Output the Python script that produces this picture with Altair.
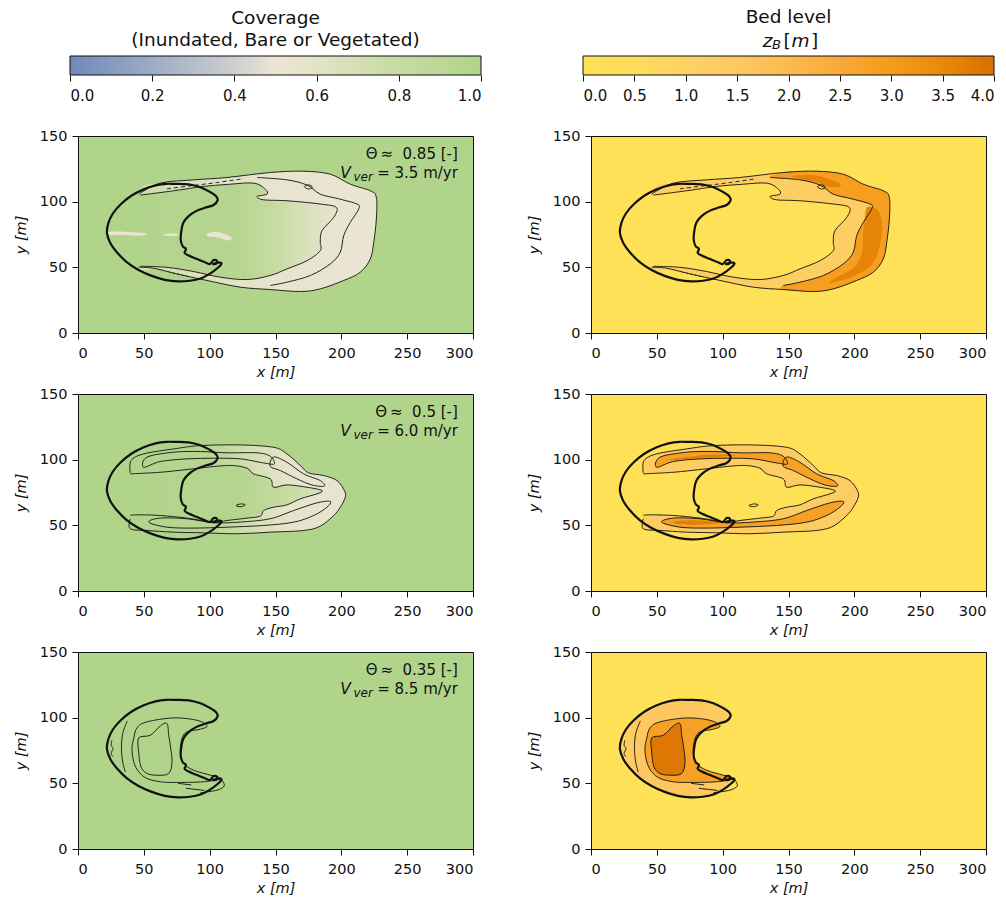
import altair as alt
import pandas as pd

FONT = "DejaVu Sans"
INK = "#111111"

# ---------------------------------------------------------------- axes
X_DOMAIN = [0, 300]
Y_DOMAIN = [0, 150]
X_TICKS = [0, 50, 100, 150, 200, 250, 300]
Y_TICKS = [0, 50, 100, 150]

# ---------------------------------------------------------------- colour maps
COVER_DOMAIN = [0.0, 1.0]
COVER_TICKS = [0.0, 0.2, 0.4, 0.6, 0.8, 1.0]
COVER_STOPS = [0.0, 0.2, 0.4, 0.5, 0.6, 0.8, 1.0]
COVER_COLORS = ["#7089ba", "#9dacc5", "#cdcfcf", "#ece5d5", "#e3e3c7", "#c7dba2", "#b1d48b"]

BED_DOMAIN = [0.0, 4.0]
BED_TICKS = [0.0, 0.5, 1.0, 1.5, 2.0, 2.5, 3.0, 3.5, 4.0]
BED_STOPS = [0.0, 0.5, 1.0, 1.5, 2.0, 2.5, 3.0, 3.5, 4.0]
BED_COLORS = ["#fee156", "#fedb5c", "#fdd364", "#fdc862", "#fbbb4e",
              "#f9a83a", "#f49c18", "#e8890a", "#d96f00"]

# ---------------------------------------------------------------- run parameters
THETA = ["0.85", "0.5", "0.35"]
V_VER = ["3.5", "6.0", "8.5"]

# ---------------------------------------------------------------- initial dune (x, y in m)
DUNE = [(74, 113.5), (84, 113.2), (93, 111), (100, 107.5), (105, 104), (106, 101),
        (103, 97.5), (97, 95.5), (90, 93), (84, 89), (80, 84), (78.5, 78), (78, 71),
        (79.5, 66), (82, 64), (81, 61), (84, 59), (90, 56.5), (96, 54), (100, 52.5),
        (103, 55.5), (105.5, 55), (105, 52.8), (102.5, 52.5), (106, 53.5), (109, 53),
        (106, 49.5), (100, 45), (93, 41.5), (85, 39.8), (76, 39.3), (66, 40.5),
        (56, 43.5), (46, 48), (37, 54), (29.5, 61.5), (24.5, 68.5), (22, 76),
        (23, 83.5), (26.5, 91), (32.5, 98), (40.5, 104.5), (49.5, 109.3),
        (59, 112.4), (67, 113.6)]

# ---------------------------------------------------------------- run 1 contours
R1_OUTER = [(46, 105.7), (62.5, 114.1), (87.8, 116.6), (113, 118.4), (146, 122.2),
            (171, 123.2), (191.6, 120.9), (206.8, 113.3), (222, 108.3), (226.6, 103.2),
            (226.6, 86.8), (224.6, 69), (222, 56.4), (214.4, 46.3), (201.8, 40),
            (184, 33.6), (168.9, 31.6), (146, 33.1), (123.3, 34.9), (98, 40),
            (75.2, 45), (57.5, 49.3), (46, 50.1)]
R1_INNER = [(47.3, 105), (72.7, 108.3), (95.4, 111.6), (113.2, 113.1), (133.4, 114.1),
            (142.3, 109.5), (143.5, 105.7), (136, 104), (141, 101.4), (158.7, 100.7),
            (184, 98.2), (196.2, 95.6), (194.2, 88), (185.3, 77.9), (184, 69.1),
            (184, 62.7), (174, 55.1), (158.7, 48.8), (146, 43.8), (128.4, 40.7),
            (108, 42.5), (87.8, 46.8), (67.6, 50), (47.3, 50.8)]
R1_HOLE_CLOSE = [(40, 56), (36, 78), (40, 100)]
R1_CREST = [(136, 118.4), (158.7, 116.6), (174, 112.6), (184, 105.7), (196.7, 102.5),
            (211.9, 98.2), (213.2, 94.4), (206.8, 84.2), (201.8, 74.1), (199.2, 61.5),
            (191.6, 52.6), (176.5, 43.8), (158.7, 38.7), (146, 36.2)]
R1_CORE_RIGHT = [(210, 96), (218, 93), (221, 82), (219, 65), (213, 52), (200, 43.5),
                 (182, 38), (186, 42), (200, 50), (206, 62), (206.5, 75), (208, 88)]
R1_CORE_TOP = [(153, 119.5), (170, 120), (184, 116), (190, 112.5), (183, 111),
               (172, 114.5), (160, 117)]
R1_DASH = [(67.6, 109.8), (85, 112), (105, 114.5), (125.8, 117.5)]
R1_DOTS = [(69, 46.5), (85.3, 42.5)]
R1_LOOP = [(172, 111.5), (175.5, 112.8), (178, 111), (175, 109.6)]
R1_PATCH_A = [(22, 76.8), (30, 77.3), (40, 76.8), (50, 76.2), (52, 74.6), (44, 74.2),
              (34, 74.8), (23, 74.6)]
R1_PATCH_B = [(98, 75.5), (104, 77), (110, 76), (117, 72.5), (114, 70.5), (106, 72.8),
              (99, 73.4)]
R1_PATCH_C = [(66, 75.5), (75, 75.6), (76, 74.2), (66, 74)]

# ---------------------------------------------------------------- run 2 contours
R2_OUTER = [(39.7, 89.9), (40.3, 99.3), (49.9, 104.4), (72.7, 108.2), (92.9, 110.7),
            (123.3, 111.2), (148.6, 109.4), (158.7, 104.4), (168.9, 95.5), (175.2, 89.9),
            (186.6, 87.9), (196.7, 84.1), (202.3, 76.5), (203, 71.4), (199.2, 63.8),
            (194.2, 57.5), (184, 49.4), (171.4, 46.1), (146, 44.8), (120.8, 43.6),
            (95.4, 44.3), (72.7, 44.8), (52.4, 46.1), (39.7, 47.4), (39.7, 55)]
R2_INNER = [(39.7, 89.2), (62.5, 90.4), (82.8, 92.5), (105.6, 95), (118.2, 95.5),
            (128.4, 93.5), (133.4, 89.2), (146, 85.4), (148.6, 79), (158.7, 80.8),
            (173.9, 79), (185.3, 76.5), (181.5, 74), (168.9, 70.2), (158.7, 65.6),
            (148.6, 63.8), (141, 61.3), (138.5, 57), (128.4, 55.5), (113.2, 53.7),
            (103, 52.4), (82.8, 55.5), (62.5, 57.5), (44.8, 58), (39.7, 57.5)]
R2_HOLE_CLOSE = [(34, 62), (32, 74), (34, 85)]
R2_TOP_CREST = [(49.9, 94.2), (52.4, 101.9), (72.7, 105.7), (92.9, 106.2), (113.2, 105.2),
                (136, 105.2), (146, 102.6), (149.1, 96.8), (141, 97.5), (123.3, 100.6),
                (103, 101.1), (82.8, 100.6), (62.5, 98.6)]
R2_TOP_RIGHT = [(148.6, 102), (158.7, 98), (171.4, 89.2), (184, 84.1), (187, 79.8),
                (177.5, 80.8), (166.3, 85.4), (153.7, 91.7), (146, 95)]
R2_BOT_CREST = [(53.7, 52.4), (62.5, 55.5), (82.8, 55), (103, 52), (123.3, 52.5),
                (146, 55), (163.8, 61.3), (181.5, 67.1), (191.6, 68.2), (189.1, 63.8),
                (179, 57.5), (163.8, 52.4), (141, 49.9), (113.2, 48.6), (87.8, 47.9),
                (67.6, 48.6)]
R2_TOP_CORE = [(57.5, 99.8), (77.7, 102.6), (95.4, 103.9), (110, 103.5), (95, 102),
               (82, 101.2), (67.6, 100)]
R2_BOT_CORE = [(62.5, 52.6), (77.7, 53.8), (98, 52), (82.8, 50.6), (67.6, 50.9)]
R2_LOOP = [(120, 65), (123.5, 66.3), (127, 65.6), (124, 64.2)]

# ---------------------------------------------------------------- run 3 contours
R3_LEFT = [(37.5, 97.5), (34, 88), (33, 76.5), (34, 66), (36, 58.5)]
R3_MID = [(42.3, 84.1), (44.8, 92.2), (52.4, 96.8), (72.7, 99.8), (90.4, 98), (98, 93.7),
          (92.9, 91.2), (82.8, 89.2), (79, 84.1), (77.7, 74), (80.3, 65.1), (87.8, 60),
          (100.5, 56.2), (108.1, 53.7), (95.4, 51.2), (72.7, 50.7), (62.5, 51.2),
          (52.4, 53.7), (46.1, 58.8), (42.3, 66.4), (41, 76.5)]
R3_CORE = [(46.1, 84.6), (54.9, 86.6), (62.5, 93.7), (67.6, 95.5), (68.9, 86.6),
           (70.1, 79), (71.4, 66.4), (68.9, 57.5), (60, 56.2), (52.4, 57.5),
           (47.8, 62.6), (46.1, 74)]
R3_HORN = [(93, 42.8), (105.6, 44.8), (111.1, 48.1), (109.4, 52.4)]
R3_STREAK_A = [(76, 50), (86, 48.8)]
R3_STREAK_B = [(82, 46.2), (96, 44.6)]
R3_ZIG = [(25.8, 82.8), (25.1, 79), (26.6, 76.5), (25.1, 72.7), (26.6, 70.2)]

# ---------------------------------------------------------------- field levels of the shaded regions
R1_BED = {"ring": 1.2, "crest": 2.9, "core": 3.6}
R2_BED = {"ring": 1.3, "crest": 2.8, "core": 3.7}
R3_BED = {"mid": 2.8, "core": 3.85}
R3_DUNE_GRAD = ([22, 35, 70, 109], [0.8, 1.5, 1.6, 1.3])
R1_COVER_RING = ([46, 100, 150, 226.6], [0.78, 0.62, 0.55, 0.52])
R1_COVER_HOLE = ([36, 120, 150, 180, 196.2], [1.0, 0.96, 0.8, 0.62, 0.56])
R1_COVER_PATCH = 0.52
R2_COVER_RING = ([39.7, 100, 130, 160, 203], [1.0, 0.95, 0.72, 0.56, 0.54])
R2_COVER_HOLE = ([32, 120, 160, 185.3], [1.0, 0.97, 0.8, 0.65])

# ---------------------------------------------------------------- layout
PANEL_W, PANEL_H = 395, 197
BAR_H = 19
BAR_RANGE = [-8, PANEL_W + 8]
NOTE_X = 288.5
NOTE_Y = [136.5, 122]
NBSP = "\u00a0"


def cmap(v, stops, colors):
    if v <= stops[0]:
        return colors[0]
    for k in range(len(stops) - 1):
        if stops[k] <= v <= stops[k + 1]:
            t = (v - stops[k]) / (stops[k + 1] - stops[k])
            a = [int(colors[k][j:j + 2], 16) for j in (1, 3, 5)]
            b = [int(colors[k + 1][j:j + 2], 16) for j in (1, 3, 5)]
            return "#%02x%02x%02x" % tuple(round(a[i] + (b[i] - a[i]) * t) for i in range(3))
    return colors[-1]


def bed(v):
    return cmap(v, BED_STOPS, BED_COLORS)


def cover(v):
    return cmap(v, COVER_STOPS, COVER_COLORS)


def x_gradient(pts, xs, values, to_color):
    lo = min(p[0] for p in pts)
    hi = max(p[0] for p in pts)
    stops = []
    for x, v in zip(xs, values):
        off = min(1.0, max(0.0, (x - lo) / (hi - lo)))
        stops.append(alt.GradientStop(offset=off, color=to_color(v)))
    return alt.LinearGradient(gradient="linear", x1=0, x2=1, y1=0, y2=0, stops=stops)


X_ENC = alt.X("x:Q", scale=alt.Scale(domain=X_DOMAIN, nice=False, zero=False),
              axis=alt.Axis(values=X_TICKS, title="x [m]", labelPadding=7, titlePadding=6))
Y_ENC = alt.Y("y:Q", scale=alt.Scale(domain=Y_DOMAIN, nice=False, zero=False),
              axis=alt.Axis(values=Y_TICKS, title="y [m]", labelPadding=5, titlePadding=11))


def frame(pts):
    return pd.DataFrame({"x": [p[0] for p in pts], "y": [p[1] for p in pts],
                         "i": list(range(len(pts)))})


def placed(chart):
    return chart.encode(x=X_ENC, y=Y_ENC, order=alt.Order("i:Q"))


def region(pts, paint):
    return placed(alt.Chart(frame(pts)).mark_line(
        fill=paint, strokeOpacity=0, interpolate="cardinal-closed", clip=True))


def contour(pts, closed=False, dash=None, width=0.9):
    props = dict(color=INK, strokeWidth=width, clip=True,
                 interpolate="cardinal-closed" if closed else "cardinal")
    if dash:
        props["strokeDash"] = dash
    return placed(alt.Chart(frame(pts)).mark_line(**props))


def notes(theta, vver):
    d1 = pd.DataFrame({"x": [NOTE_X], "y": [NOTE_Y[0]],
                       "t": [f"\u0398\u2009\u2248{NBSP}{NBSP}{theta} [-]"]})
    d2 = pd.DataFrame({"x": [NOTE_X], "y": [NOTE_Y[1]], "t": [f"= {vver} m/yr"]})
    base = dict(align="right", baseline="middle", color=INK, font=FONT)
    return [
        alt.Chart(d1).mark_text(fontSize=15, **base).encode(x=X_ENC, y=Y_ENC, text="t:N"),
        alt.Chart(d2).mark_text(fontSize=15, **base).encode(x=X_ENC, y=Y_ENC, text="t:N"),
        alt.Chart(d2).mark_text(text="ver", fontSize=12, fontStyle="italic", dx=-85, dy=4,
                                **base).encode(x=X_ENC, y=Y_ENC),
        alt.Chart(d2).mark_text(text="V", fontSize=15.5, fontStyle="italic", dx=-107,
                                **base).encode(x=X_ENC, y=Y_ENC),
    ]


def panel(background, fills, lines, theta=None, vver=None):
    layers = [region(p, c) for p, c in fills]
    layers += [contour(p, closed, dash) for p, closed, dash in lines]
    layers.append(contour(DUNE, closed=True, width=2.2))
    if theta is not None:
        layers += notes(theta, vver)
    return alt.layer(*layers).properties(
        width=PANEL_W, height=PANEL_H,
        view=alt.ViewBackground(fill=background, stroke=INK, strokeWidth=1))


def colorbar(domain, ticks, stops, colors, title, extra=None):
    span = domain[1] - domain[0]
    paint = alt.LinearGradient(
        gradient="linear", x1=0, x2=1, y1=0, y2=0,
        stops=[alt.GradientStop(offset=(s - domain[0]) / span, color=c)
               for s, c in zip(stops, colors)])
    xenc = alt.X("lo:Q", scale=alt.Scale(domain=domain, range=BAR_RANGE, nice=False, zero=False),
                 axis=alt.Axis(values=ticks, format=".1f", title=None, labelFontSize=15,
                               labelPadding=7))
    bar = alt.Chart(pd.DataFrame({"lo": [domain[0]], "hi": [domain[1]]})).mark_rect(
        fill=paint, stroke=INK, strokeWidth=1).encode(x=xenc, x2="hi:Q")
    layers = [bar]
    if extra:
        mid = pd.DataFrame({"lo": [(domain[0] + domain[1]) / 2]})
        for text, style, size, dx, dy in extra:
            layers.append(alt.Chart(mid).mark_text(
                text=text, fontStyle=style, fontSize=size, dx=dx, dy=dy, font=FONT,
                color=INK, align="center", baseline="middle", clip=False
            ).encode(x=xenc, y=alt.value(-15)))
    return alt.layer(*layers).properties(
        width=PANEL_W, height=BAR_H,
        title=alt.TitleParams(title, frame="group"),
        view=alt.ViewBackground(stroke="transparent"))


# ---------------------------------------------------------------- colour bars
cover_bar = colorbar(COVER_DOMAIN, COVER_TICKS, COVER_STOPS, COVER_COLORS,
                     ["Coverage", "(Inundated, Bare or Vegetated)"])
# the second title line (z_B [m]) is set piecewise so that B can be a subscript;
# those pieces already lift the bar's upper bound, so the title keeps one line
bed_label = [("z", "italic", 18.5, -21, 0), ("B", "italic", 13, -12, 4),
             ("[", "normal", 18.5, -1.5, 0), ("m", "italic", 18.5, 12, 0),
             ("]", "normal", 18.5, 26, 0)]
bed_bar = colorbar(BED_DOMAIN, BED_TICKS, BED_STOPS, BED_COLORS, "Bed level", bed_label)

GREEN = COVER_COLORS[-1]
YELLOW = BED_COLORS[0]

# ---------------------------------------------------------------- run 1
r1_lines = [(R1_OUTER, False, None), (R1_INNER, False, None), (R1_CREST, False, None),
            (R1_DASH, False, [4, 3]), (R1_DOTS, False, [1.5, 3]), (R1_LOOP, True, None)]
r1_hole = R1_INNER + R1_HOLE_CLOSE
r1_crest_poly = R1_CREST + R1_OUTER[17:3:-1]
r1_cover = panel(GREEN, [
    (R1_OUTER, x_gradient(R1_OUTER, *R1_COVER_RING, cover)),
    (r1_hole, x_gradient(r1_hole, *R1_COVER_HOLE, cover)),
    (R1_PATCH_A, cover(R1_COVER_PATCH)), (R1_PATCH_B, cover(R1_COVER_PATCH)),
    (R1_PATCH_C, cover(R1_COVER_PATCH)),
], r1_lines, THETA[0], V_VER[0])
r1_bed = panel(YELLOW, [
    (R1_OUTER, bed(R1_BED["ring"])),
    (r1_crest_poly, bed(R1_BED["crest"])),
    (R1_CORE_RIGHT, bed(R1_BED["core"])),
    (R1_CORE_TOP, bed(R1_BED["core"])),
    (r1_hole, YELLOW),
], r1_lines)

# ---------------------------------------------------------------- run 2
r2_lines = [(R2_OUTER, False, None), (R2_INNER, False, None), (R2_TOP_CREST, True, None),
            (R2_TOP_RIGHT, True, None), (R2_BOT_CREST, True, None), (R2_LOOP, True, None)]
r2_hole = R2_INNER + R2_HOLE_CLOSE
r2_cover = panel(GREEN, [
    (R2_OUTER, x_gradient(R2_OUTER, *R2_COVER_RING, cover)),
    (r2_hole, x_gradient(r2_hole, *R2_COVER_HOLE, cover)),
], r2_lines, THETA[1], V_VER[1])
r2_bed = panel(YELLOW, [
    (R2_OUTER, bed(R2_BED["ring"])),
    (R2_TOP_CREST, bed(R2_BED["crest"])),
    (R2_TOP_RIGHT, bed(R2_BED["crest"])),
    (R2_BOT_CREST, bed(R2_BED["crest"])),
    (R2_TOP_CORE, bed(R2_BED["core"])),
    (R2_BOT_CORE, bed(R2_BED["core"])),
    (r2_hole, YELLOW),
], r2_lines)

# ---------------------------------------------------------------- run 3
r3_lines = [(R3_LEFT, False, None), (R3_MID, True, None), (R3_CORE, True, None),
            (R3_HORN, False, None), (R3_STREAK_A, False, None), (R3_STREAK_B, False, None),
            (R3_ZIG, False, None)]
r3_cover = panel(GREEN, [], r3_lines, THETA[2], V_VER[2])
r3_bed = panel(YELLOW, [
    (DUNE, x_gradient(DUNE, *R3_DUNE_GRAD, bed)),
    (R3_MID, bed(R3_BED["mid"])),
    (R3_CORE, bed(R3_BED["core"])),
], r3_lines)

chart = alt.concat(
    cover_bar, bed_bar, r1_cover, r1_bed, r2_cover, r2_bed, r3_cover, r3_bed,
    columns=2, spacing={"row": 61, "column": 118}, bounds="flush", align="each",
).properties(
    padding={"left": 12, "top": 7, "right": 0, "bottom": 0}
).configure(font=FONT).configure_axis(
    labelFont=FONT, labelFontSize=14.5, labelColor=INK, tickColor=INK, tickSize=6,
    tickWidth=1, domain=False, grid=False,
    titleFont=FONT, titleFontSize=14.5, titleFontWeight="normal", titleFontStyle="italic",
    titleColor=INK,
).configure_title(
    font=FONT, fontSize=18.5, fontWeight="normal", color=INK, anchor="middle",
    offset=6, lineHeight=22,
).configure_view(stroke=INK, strokeWidth=1)

chart.save("out.html", embed_options={"renderer": "svg", "actions": False})
